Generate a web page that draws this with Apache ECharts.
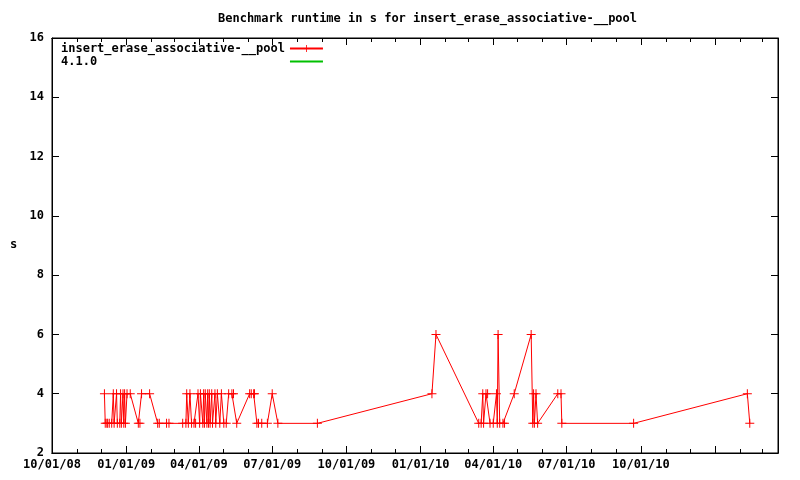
<!DOCTYPE html>
<html>
<head>
<meta charset="utf-8">
<script src="https://cdn.jsdelivr.net/npm/echarts@6/dist/echarts.min.js"></script>
<style>html,body{margin:0;padding:0;background:#fff}#c{width:800px;height:480px}</style>
</head>
<body>
<div id="c"></div>
<script>
const chartTitle = 'Benchmark runtime in s for insert_erase_associative-__pool';
const seriesName = 'insert_erase_associative-__pool';
const secondName = '4.1.0';
const yAxisName = 's';

const dates = [
 '2008-12-05','2008-12-06','2008-12-08','2008-12-09','2008-12-11','2008-12-14','2008-12-16','2008-12-17',
 '2008-12-20','2008-12-21','2008-12-24','2008-12-25','2008-12-26','2008-12-28','2008-12-29','2008-12-30',
 '2008-12-31','2009-01-02','2009-01-06','2009-01-16','2009-01-18','2009-01-20','2009-01-30','2009-02-09',
 '2009-02-11','2009-02-20','2009-02-23',
 '2009-03-12','2009-03-16','2009-03-17','2009-03-19','2009-03-21','2009-03-23','2009-03-26','2009-03-28',
 '2009-03-31','2009-04-02','2009-04-03','2009-04-06','2009-04-07','2009-04-08','2009-04-09','2009-04-11',
 '2009-04-12','2009-04-13','2009-04-14','2009-04-15','2009-04-17','2009-04-18','2009-04-21','2009-04-22',
 '2009-04-24','2009-04-27','2009-04-29','2009-05-02','2009-05-05','2009-05-08','2009-05-12','2009-05-14',
 '2009-05-18','2009-06-03','2009-06-05','2009-06-08','2009-06-09','2009-06-12','2009-06-14','2009-06-18',
 '2009-06-25','2009-07-01','2009-07-08','2009-08-26',
 '2010-01-15','2010-01-20','2010-03-14','2010-03-17','2010-03-19','2010-03-20','2010-03-23','2010-03-25',
 '2010-03-28','2010-04-01','2010-04-05','2010-04-06','2010-04-07','2010-04-09','2010-04-13','2010-04-15',
 '2010-04-27','2010-05-18','2010-05-20','2010-05-21','2010-05-22','2010-05-24','2010-05-26','2010-06-20',
 '2010-06-24','2010-06-25','2010-09-22','2011-02-10','2011-02-13'
];
const values = [
 4,3,3,3,3,3,4,3,
 4,3,3,4,3,4,3,4,
 3,4,4,3,3,4,4,3,
 3,3,3,
 3,3,4,3,4,3,3,3,
 4,3,4,3,4,3,4,3,
 4,3,4,3,4,3,4,3,
 4,3,4,3,3,4,4,4,
 3,4,4,4,4,3,3,3,
 3,4,3,3,
 4,6,3,3,4,3,4,4,
 3,3,4,3,6,3,3,3,
 4,6,3,4,3,4,3,4,
 4,3,3,4,3
];

const majorTicks = ['2008-10-01','2009-01-01','2009-04-01','2009-07-01','2009-10-01','2010-01-01','2010-04-01','2010-07-01','2010-10-01','2011-01-01'];
const tickLabels = ['10/01/08','01/01/09','04/01/09','07/01/09','10/01/09','01/01/10','04/01/10','07/01/10','10/01/10'];
const minorTicks = ['2008-11-01','2008-12-01','2009-02-01','2009-03-01','2009-05-01','2009-06-01','2009-08-01','2009-09-01',
 '2009-11-01','2009-12-01','2010-02-01','2010-03-01','2010-05-01','2010-06-01','2010-08-01','2010-09-01',
 '2010-11-01','2010-12-01','2011-02-01','2011-03-01'];
const xMin = '2008-10-01';
const xMax = '2011-03-20';

const ts = s => { const p = s.split('-').map(Number); return Date.UTC(p[0], p[1]-1, p[2]); };
const data = dates.map((d, i) => [ts(d), values[i]]);
const majorVals = majorTicks.map(ts);
const labelVals = majorVals.slice(0, tickLabels.length);
const minorVals = minorTicks.map(ts);

const font = '"DejaVu Sans Mono", "Liberation Mono", monospace';
const crossPath = 'path://M0,4 L9,4 L9,5 L0,5 Z M4,0 L5,0 L5,9 L4,9 Z';

function xAxisDef(pos, ticks, len, labels) {
  return {
    type: 'value', position: pos, min: ts(xMin), max: ts(xMax),
    axisLine: { show: true, onZero: false, lineStyle: { color: '#000', width: 1 } },
    splitLine: { show: false },
    axisTick: { show: true, inside: true, length: len, customValues: ticks, lineStyle: { color: '#000', width: 1 } },
    axisLabel: labels ? {
      show: true, customValues: labelVals, color: '#000', fontFamily: font, fontSize: 12, fontWeight: 'bold', margin: 6,
      formatter: v => { const i = labelVals.indexOf(v); return i >= 0 ? tickLabels[i] : ''; }
    } : { show: false }
  };
}
function yAxisDef(pos, labels) {
  return {
    type: 'value', position: pos, min: 2, max: 16, interval: 2,
    axisLine: { show: true, onZero: false, lineStyle: { color: '#000', width: 1 } },
    splitLine: { show: false },
    axisTick: { show: true, inside: true, length: 7, lineStyle: { color: '#000', width: 1 } },
    axisLabel: labels ? { show: true, color: '#000', fontFamily: font, fontSize: 12, fontWeight: 'bold', margin: 8 } : { show: false }
  };
}

const chart = echarts.init(document.getElementById('c'), null, { renderer: 'canvas' });
chart.setOption({
  animation: false,
  backgroundColor: '#fff',
  title: {
    text: chartTitle, left: 213, top: 8,
    textStyle: { fontFamily: font, fontSize: 12, fontWeight: 'bold', color: '#000' }
  },
  graphic: [{
    type: 'text', left: 10, top: 239,
    style: { text: yAxisName, fontFamily: font, fontSize: 12, fontWeight: 'bold', fill: '#000' }
  }],
  legend: {
    orient: 'vertical', left: 56, top: 37, align: 'right',
    itemWidth: 33, itemHeight: 9, itemGap: 0,
    data: [seriesName, { name: secondName, itemStyle: { opacity: 0 } }],
    formatter: name => name.padEnd(seriesName.length, ' '),
    textStyle: { fontFamily: font, fontSize: 12, fontWeight: 'bold', color: '#000', lineHeight: 13 }
  },
  grid: { left: 52, right: 22, top: 38, bottom: 27, show: true, borderColor: '#000', borderWidth: 1, backgroundColor: '#fff' },
  xAxis: [
    xAxisDef('bottom', majorVals, 7, true),
    xAxisDef('bottom', minorVals, 4, false),
    xAxisDef('top', majorVals, 7, false),
    xAxisDef('top', minorVals, 4, false)
  ],
  yAxis: [yAxisDef('left', true), yAxisDef('right', false)],
  series: [
    {
      name: seriesName, type: 'line', data: data, xAxisIndex: 0, yAxisIndex: 0,
      symbol: crossPath, symbolSize: 9, showSymbol: true,
      itemStyle: { color: '#ff0000' },
      lineStyle: { color: '#ff0000', width: 1 }
    },
    {
      name: secondName, type: 'line', data: [], xAxisIndex: 0, yAxisIndex: 0,
      symbol: 'none', itemStyle: { color: '#00c000' }, lineStyle: { color: '#00c000', width: 1 }
    }
  ]
});
</script>
</body>
</html>
